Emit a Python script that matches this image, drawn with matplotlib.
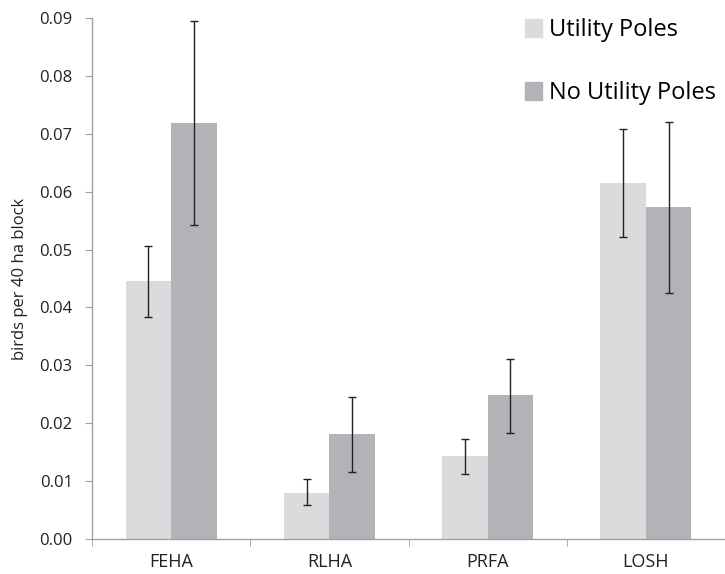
import matplotlib
matplotlib.use("Agg")
import matplotlib.pyplot as plt
import numpy as np
from matplotlib.patches import Patch

categories = ["FEHA", "RLHA", "PRFA", "LOSH"]
poles = [0.0446, 0.0080, 0.0144, 0.0615]
poles_hi = [0.0507, 0.0103, 0.0173, 0.0708]
poles_lo = [0.0383, 0.0059, 0.0112, 0.0521]
nopoles = [0.0718, 0.0181, 0.0248, 0.0573]
nopoles_hi = [0.0895, 0.0246, 0.0311, 0.0720]
nopoles_lo = [0.0543, 0.0115, 0.0183, 0.0425]
yticks = [0.00, 0.01, 0.02, 0.03, 0.04, 0.05, 0.06, 0.07, 0.08, 0.09]

plt.rcParams['font.family'] = ['Open Sans', 'DejaVu Sans']

light = "#DADBDD"
dark = "#B2B3B6"

fig = plt.figure(figsize=(7.25, 5.74), dpi=100)
ax = fig.add_axes([0.127, 0.061, 0.873, 0.9076])

x = np.arange(len(categories))
w = 0.287
p = np.array(poles); n = np.array(nopoles)
perr = [p - np.array(poles_lo), np.array(poles_hi) - p]
nerr = [n - np.array(nopoles_lo), np.array(nopoles_hi) - n]
ax.bar(x - w/2, p, w, color=light, zorder=2)
ax.bar(x + w/2, n, w, color=dark, zorder=2)
ax.errorbar(x - w/2, p, yerr=perr, fmt='none', ecolor='#222222', elinewidth=1, capsize=3, capthick=1, zorder=3)
ax.errorbar(x + w/2, n, yerr=nerr, fmt='none', ecolor='#222222', elinewidth=1, capsize=3, capthick=1, zorder=3)

ax.set_xlim(-0.5, len(categories) - 0.5)
ax.set_ylim(0, 0.09)
ax.set_yticks(yticks)
ax.set_yticklabels([f"{v:.2f}" for v in yticks], fontsize=12, color='#222222')
ax.set_xticks(x)
ax.set_xticklabels(categories, fontsize=13, color='#222222')
ax.set_xticks(np.arange(-0.5, len(categories), 1.0), minor=True)
ax.tick_params(axis='x', which='major', length=0, pad=10)
ax.tick_params(axis='x', which='minor', length=5, color='#A0A0A0', direction='out')
ax.tick_params(axis='y', length=5, color='#A0A0A0', direction='out', pad=9)
for s in ['top', 'right']:
    ax.spines[s].set_visible(False)
for s in ['left', 'bottom']:
    ax.spines[s].set_color('#A0A0A0')
    ax.spines[s].set_linewidth(1)
ax.set_ylabel("birds per 40 ha block", fontsize=12, color='#222222', labelpad=8)

handles = [Patch(color=light, label="Utility Poles"), Patch(color=dark, label="No Utility Poles")]
fig.legend(handles=handles, loc='upper right', bbox_to_anchor=(0.988, 0.968), frameon=False,
           fontsize=17, handlelength=0.75, handleheight=0.75, handletextpad=0.3,
           labelspacing=1.65, borderpad=0, borderaxespad=0)

fig.savefig("out.png", dpi=100)
